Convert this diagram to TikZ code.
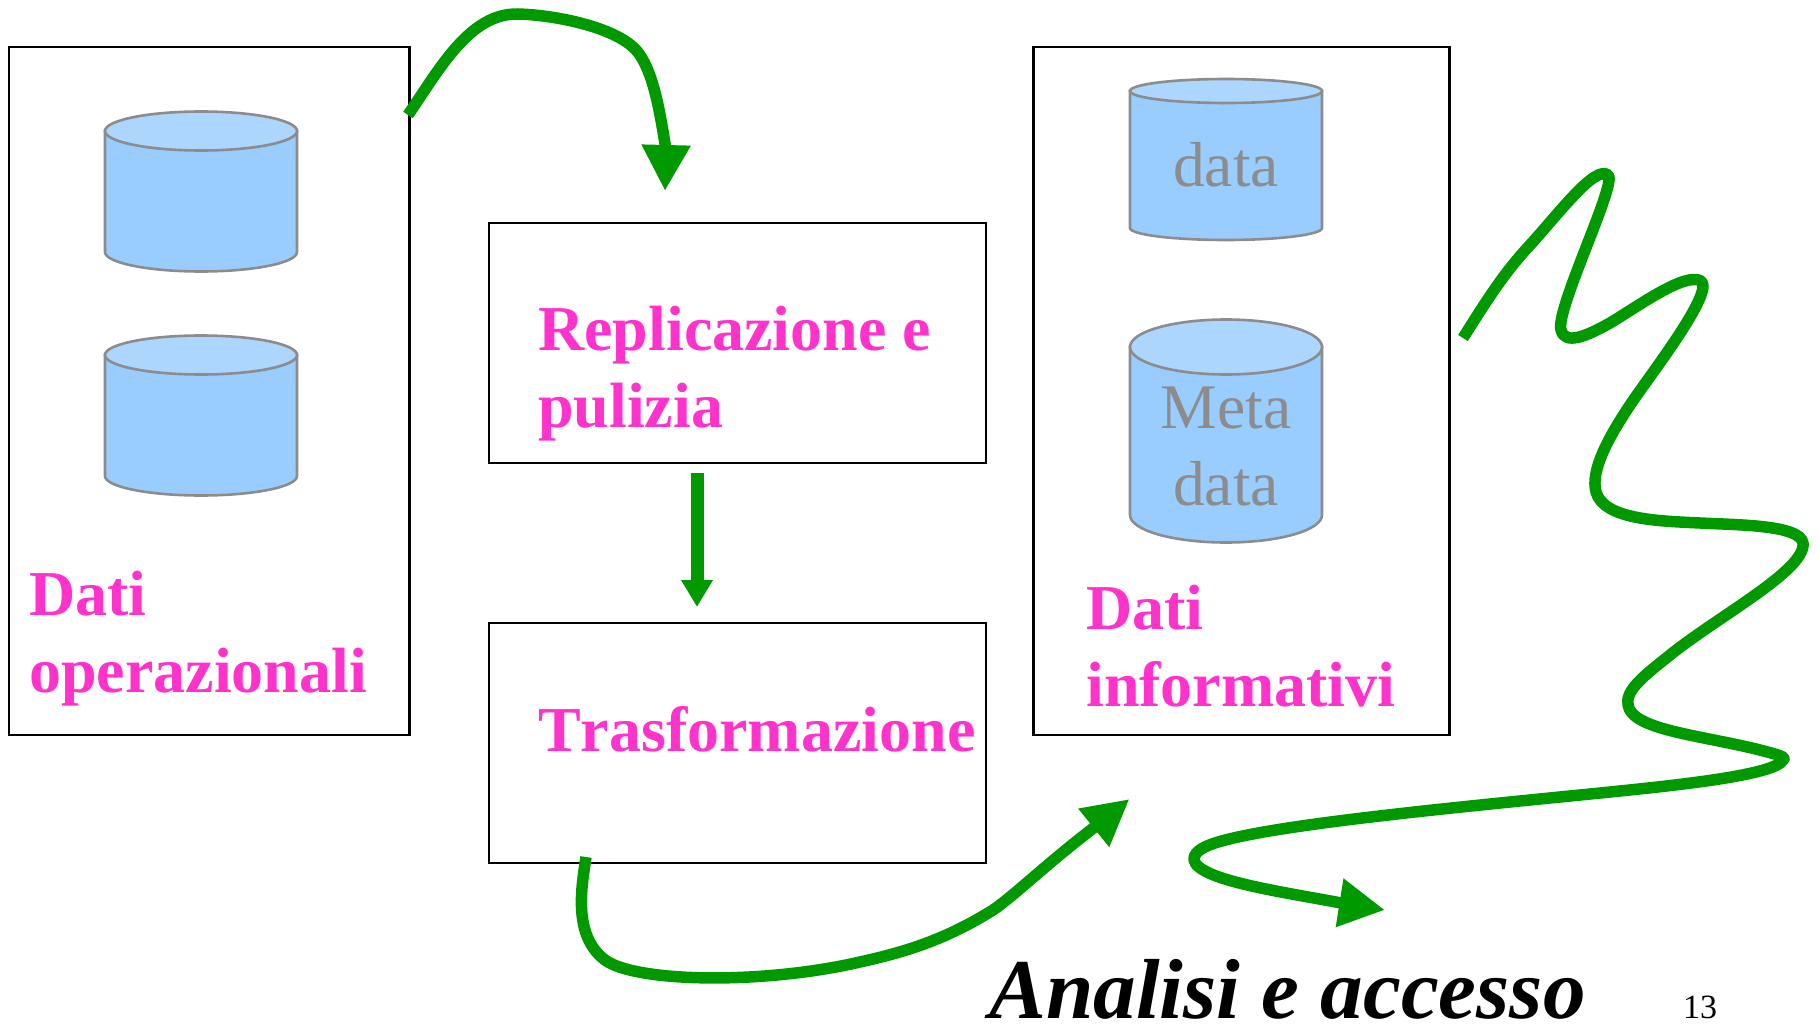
\documentclass[tikz,border=0pt]{standalone}
\usepackage{fontspec}
\setmainfont[Kerning=Off]{Liberation Serif}
\usetikzlibrary{arrows.meta}
\definecolor{flowgreen}{HTML}{009900}
\definecolor{labelpink}{HTML}{FF33CC}
\definecolor{dbbody}{HTML}{99CCFF}
\definecolor{dbtop}{HTML}{ADD6FF}
\definecolor{dbline}{HTML}{8C8C8C}
\newcommand{\dbcyl}[4]{% left x, top-ellipse centre y, bottom straight y, ry (width 192)
  \draw[dbshape,fill=dbbody] (#1,#2) -- (#1,#3) arc[start angle=180,end angle=360,x radius=96pt,y radius=#4pt] -- (#1+192,#2) -- cycle;
  \draw[dbshape,fill=dbtop] (#1+96,#2) ellipse[x radius=96pt,y radius=#4pt];
}
\tikzset{
  panel/.style={draw=black,line width=2.7pt,fill=white,inner sep=0pt,outer sep=0pt},
  dbshape/.style={draw=dbline,line width=2.6pt},
  pinklabel/.style={anchor=base west,inner sep=0pt,align=left,text=labelpink,font=\fontsize{64}{77}\bfseries\selectfont},
  dblabel/.style={anchor=base,inner sep=0pt,align=center,text=dbline,font=\fontsize{63.5}{77}\selectfont},
  flow/.style={draw=flowgreen,line width=11.5pt,line join=round,-{Triangle[length=46pt,width=46pt]}},
  flowthin/.style={draw=flowgreen,line width=13pt,-{Triangle[length=27pt,width=30pt]}},
}
\begin{document}
\begin{tikzpicture}[x=1pt,y=-1pt]
\useasboundingbox (0,0) rectangle (1819,1024);
% boxes
\node[panel,minimum width=400.5pt,minimum height=688pt] (oper) at (209.25,391) {};
\node[panel,minimum width=497pt,minimum height=240pt] (repl) at (737.5,343) {};
\node[panel,minimum width=497pt,minimum height=240pt] (trans) at (737.5,743) {};
\node[panel,minimum width=416.5pt,minimum height=688pt] (info) at (1241.5,391) {};
% cylinders
\dbcyl{105}{131}{252}{19.5}
\dbcyl{105}{355}{476}{19.5}
\dbcyl{1130}{91}{228}{12}
\dbcyl{1130}{347}{515}{27.5}
% labels
\node[dblabel] (lblData) at (1226,187) {data};
\node[dblabel] (lblMeta) at (1226,505) {Meta\\data};
\node[pinklabel] (lblOper) at (29,692) {Dati\\operazionali};
\node[pinklabel] (lblRepl) at (538,427) {Replicazione e\\pulizia};
\node[pinklabel] (lblTrans) at (538,751) {Trasformazione};
\node[pinklabel] (lblInfo) at (1086,706) {Dati\\informativi};
\node[anchor=base west,inner sep=0pt,font=\fontsize{85.2}{90}\bfseries\itshape\selectfont] (lblAcc) at (989,1018) {Analisi e accesso};
\node[anchor=base west,inner sep=0pt,font=\fontsize{34}{38}\selectfont] (pageno) at (1683,1018) {13};
% flow ends
\coordinate (f1s) at (408,115);
\coordinate (f1e) at (665,191);
\coordinate (f3s) at (586,857);
\coordinate (f3e) at (1129.5,799);
\coordinate (f4s) at (1463,338);
\coordinate (f4e) at (1385,910);
% flows
\draw[flow] (f1s) .. controls (440,68) and (470,13) .. (518,14)
  .. controls (555,15) and (615,27) .. (636,50)
  .. controls (653,69) and (660,112) .. (666,150) -- (f1e);
\draw[flowthin] ([xshift=-40.5pt,yshift=-10pt]repl.south) -- ([xshift=-40.5pt,yshift=16pt]trans.north);
\draw[flow] (f3s) .. controls (582,885) and (572,935) .. (605,960)
  .. controls (635,982) and (760,985) .. (860,962)
  .. controls (905,952) and (945,940) .. (993,910)
  .. controls (1015,895) and (1045,865) .. (1096,826) -- (f3e);
\draw[flow] (f4s) .. controls (1490,295) and (1505,272) .. (1530,245)
  .. controls (1560,212) and (1595,165) .. (1608,175)
  .. controls (1618,182) and (1555,310) .. (1561,330)
  .. controls (1565,345) and (1585,337) .. (1610,323)
  .. controls (1640,305) and (1685,272) .. (1701,281)
  .. controls (1715,292) and (1650,375) .. (1630,405)
  .. controls (1610,435) and (1590,470) .. (1596,492)
  .. controls (1604,520) and (1660,521) .. (1700,523)
  .. controls (1740,525) and (1800,525) .. (1803,543)
  .. controls (1806,570) and (1720,615) .. (1670,655)
  .. controls (1645,675) and (1625,690) .. (1628,705)
  .. controls (1632,730) and (1700,735) .. (1760,750)
  .. controls (1775,754) and (1788,757) .. (1783,760)
  .. controls (1775,775) and (1680,785) .. (1600,793)
  .. controls (1450,808) and (1270,825) .. (1215,843)
  .. controls (1190,851) and (1188,862) .. (1205,871)
  .. controls (1230,885) and (1300,895) .. (1341,903) -- (f4e);
\end{tikzpicture}
\end{document}
